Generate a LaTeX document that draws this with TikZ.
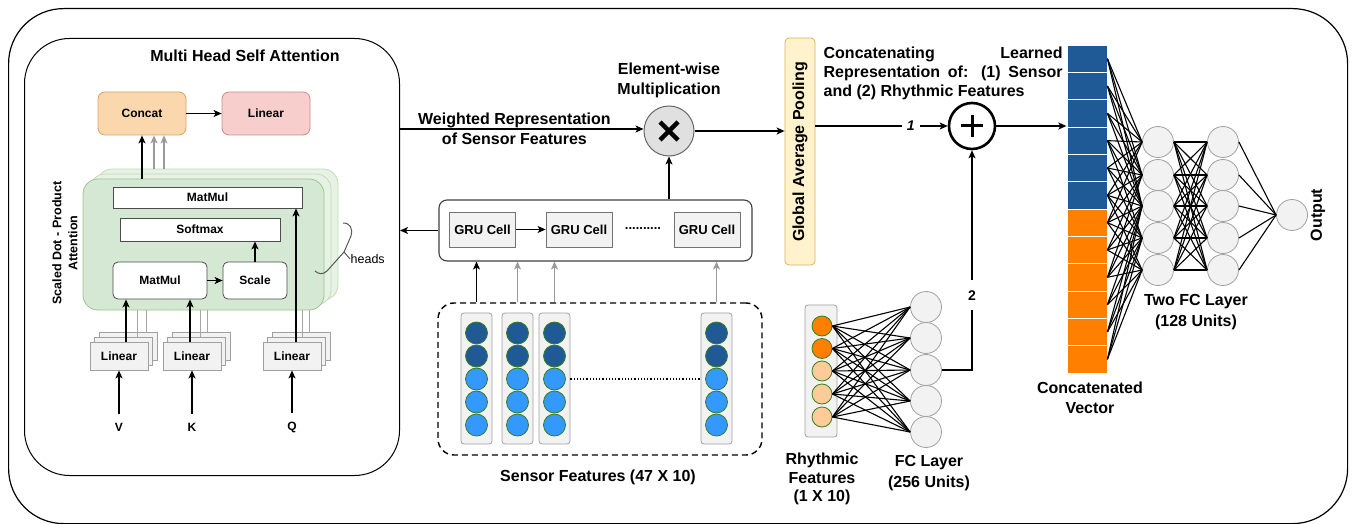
\documentclass[tikz,border=0pt]{standalone}
\usepackage{fontspec}
\setmainfont{Liberation Sans}
\usetikzlibrary{arrows.meta,calc}
\definecolor{dblue}{HTML}{1F5A96}
\definecolor{lblue}{HTML}{3399FF}
\definecolor{cgreen}{HTML}{3A7F1E}
\definecolor{dorange}{HTML}{FF8000}
\definecolor{lorange}{HTML}{FFCC99}
\definecolor{ngray}{HTML}{F2F2F2}
\definecolor{bgray}{HTML}{A0A0A0}
\definecolor{agray}{HTML}{9A9A9A}
\definecolor{gfill}{HTML}{D5E8D4}
\definecolor{gdraw}{HTML}{9CC58A}
\definecolor{gfillb}{HTML}{E6F2E4}
\definecolor{gdrawb}{HTML}{C3DDB8}
\definecolor{cfill}{HTML}{FAD7AC}
\definecolor{cdraw}{HTML}{D9A35E}
\definecolor{lfill}{HTML}{F8CECC}
\definecolor{ldraw}{HTML}{CC8A88}
\definecolor{yfill}{HTML}{FFF2CC}
\definecolor{ydraw}{HTML}{D6B656}
\begin{document}
\begin{tikzpicture}[x=1pt,y=-1pt,line width=1.3pt,
  >={Stealth[length=8pt,width=7pt,inset=2pt]},
  big/.style={font=\fontsize{16}{20}\selectfont\bfseries,align=center,inner sep=0},
  sm/.style={font=\fontsize{12}{14}\selectfont\bfseries,inner sep=0},
  wbox/.style={sm,draw=black!70,fill=white,line width=0.8pt},
  linbox/.style={sm,draw=bgray,fill=ngray,minimum width=58,minimum height=28,line width=0.8pt},
  greenbox/.style={draw=gdraw,fill=gfill,rounded corners=15,minimum width=241,minimum height=131,line width=0.8pt},
  greenback/.style={draw=gdrawb,fill=gfillb,rounded corners=15,minimum width=241,minimum height=131,line width=0.8pt},
  neuron/.style={circle,draw=bgray,fill=ngray,minimum size=31,inner sep=0,line width=0.8pt},
  sdot/.style={circle,draw=cgreen,minimum size=22,inner sep=0,line width=0.8pt},
  rdot/.style={circle,draw=cgreen,minimum size=20,inner sep=0,line width=0.8pt},
  colbox/.style={draw=bgray,fill=ngray,rounded corners=3,line width=0.8pt},
  grucell/.style={draw=black!55,fill=ngray,minimum width=66,minimum height=35,line width=0.8pt,
     font=\fontsize{13}{15}\selectfont\bfseries,inner sep=0},
  garrow/.style={->,draw=agray},
  gline/.style={draw=black!35,line width=1pt},
  conn/.style={line width=1.1pt},
]
\useasboundingbox (0,0) rectangle (1353,524);

% frames
\node[draw,line width=1.2pt,rounded corners=55,minimum width=1339,minimum height=515,anchor=north west,inner sep=0] (frame) at (8,8) {};
\node[draw,line width=1pt,rounded corners=45,minimum width=375,minimum height=437,anchor=north west,inner sep=0] (mhsa) at (24,38) {};
\node[big] (title) at (245,56) {Multi Head Self Attention};

% concat / linear
\node[sm,draw=cdraw,fill=cfill,rounded corners=7,minimum width=88,minimum height=43,line width=0.8pt] (concat) at (142,113.5) {Concat};
\node[sm,draw=ldraw,fill=lfill,rounded corners=7,minimum width=88,minimum height=43,line width=0.8pt] (linout) at (266,113.5) {Linear};
\draw[->] (concat.east) -- (linout.west);

% scaled dot product attention stack
\node[greenback] (sdpa2) at (217.5,234.5) {};
\node[greenback] (sdpa1) at (210.5,239.5) {};
\node[greenbox] (sdpa) at (203.5,244.5) {};
\node[wbox,minimum width=189,minimum height=21] (mm1) at (207.5,197.5) {MatMul};
\node[wbox,minimum width=160,minimum height=23] (soft) at (200,229.5) {Softmax};
\node[wbox,rounded corners=5,minimum width=94,minimum height=37] (mm2) at (160,280.5) {MatMul};
\node[wbox,rounded corners=5,minimum width=64,minimum height=37] (scale) at (255,280.5) {Scale};
\draw[->] (mm2.east) -- (scale.west);
\draw[->] (scale.north) -- (scale.north |- soft.south);
\draw[->] (concat.south |- sdpa.north) -- (concat.south);
\draw[garrow] ([xshift=12]concat.south |- sdpa2.north) -- ([xshift=12]concat.south);
\draw[garrow] ([xshift=22]concat.south |- sdpa2.north) -- ([xshift=22]concat.south);
\node[sm,rotate=90,align=center,font=\fontsize{12.5}{16}\selectfont\bfseries] (sdpalbl) at (65,243) {Scaled Dot - Product\\Attention};

% heads brace
\node[anchor=west,inner sep=0,font=\fontsize{12.5}{14}\selectfont] (heads) at (350,259) {heads};
\draw[line width=1pt,draw=black!65] (343,223) .. controls (350,223) and (353,228) .. (351,236) -- (344,252) -- (heads.west);
\draw[line width=1pt,draw=black!65] (344,252) -- (327,271) .. controls (323,275) and (318,274) .. (315,271);

% linear input boxes
\foreach \n/\x in {V/119,K/192,Q/292}{
  \node[linbox] (lin\n b2) at (\x+9,346) {};
  \node[linbox] (lin\n b1) at (\x+4.5,351) {};
  \node[linbox] (lin\n) at (\x,356) {Linear};
  \node[sm] (in\n) at (\x,427) {\n};
  \draw[->] (in\n.north) ++(0,-8) -- (lin\n.south);
}
\draw[->] ([xshift=7]linV.north) -- ([xshift=7]linV.north |- mm2.south);
\draw[->] ([xshift=-2]linK.north) -- ([xshift=-2]linK.north |- mm2.south);
\draw[->] ([xshift=4]linQ.north) -- ([xshift=4]linQ.north |- mm1.south);
\draw[gline] ([xshift=18]linV.north |- linVb1.north) -- ([xshift=18]linV.north |- sdpa.south);
\draw[gline] ([xshift=27]linV.north |- linVb2.north) -- ([xshift=27]linV.north |- sdpa.south);
\draw[gline] ([xshift=8]linK.north |- linKb1.north) -- ([xshift=8]linK.north |- sdpa.south);
\draw[gline] ([xshift=15]linK.north |- linKb2.north) -- ([xshift=15]linK.north |- sdpa.south);
\draw[gline] ([xshift=10]linQ.north |- linQb1.north) -- ([xshift=10]linQ.north |- sdpa.south);
\draw[gline] ([xshift=17]linQ.north |- linQb2.north) -- ([xshift=17]linQ.north |- sdpa.south);

% multiplication
\node[circle,draw=black!60,fill=black!12,minimum size=50,inner sep=0,line width=1pt] (mult) at (669,131) {};
\draw[line width=4.5pt] ([shift={(-9,-9)}]mult.center) -- ([shift={(9,9)}]mult.center);
\draw[line width=4.5pt] ([shift={(-9,9)}]mult.center) -- ([shift={(9,-9)}]mult.center);
\node[big] (multlbl) at (669,80.5) {Element-wise\\Multiplication};
\draw[->] (mhsa.east |- 0,129) -- node[pos=0.47,big,font=\fontsize{16}{20}\selectfont\bfseries] {Weighted Representation\\of Sensor Features} (mult.west |- 0,129);

% GRU
\node[draw=black!75,fill=white,rounded corners=8,minimum width=313,minimum height=61,line width=1.1pt,inner sep=0] (gru) at (595.5,230.5) {};
\node[grucell] (g1) at (482.5,229.5) {GRU Cell};
\node[grucell] (g2) at (579,229.5) {GRU Cell};
\node[grucell] (g3) at (707,229.5) {GRU Cell};
\draw[->,line width=1pt] (g1.east) -- (g2.west);
\node[inner sep=0,font=\fontsize{13}{15}\selectfont\bfseries] (gdots) at (643,229) {..........};
\draw[->] (gru.north -| mult.south) -- (mult.south);
\draw[->] (gru.west) -- (gru.west -| mhsa.east);

% sensor features
\node[draw,dashed,dash pattern=on 6pt off 4pt,line width=1.4pt,rounded corners=16,minimum width=324,minimum height=152,inner sep=0] (sens) at (600,379) {};
\foreach \c/\x in {1/476.5,2/517.5,3/554.5,4/716.5}{
  \node[colbox,minimum width=31,minimum height=131,inner sep=0] (s\c) at (\x,378.5) {};
  \foreach \k/\y/\col in {1/333/dblue,2/356/dblue,3/379/lblue,4/402/lblue,5/425/lblue}{
    \node[sdot,fill=\col] (s\c d\k) at (\x,\y) {};
  }
}
\draw[line width=1.2pt,dotted] (s3d3.east -| s3.east) -- (s4d3.west -| s4.west);
\draw[->] (s1.center |- sens.north) -- (s1.center |- gru.south);
\draw[garrow] (s2.center |- sens.north) -- (s2.center |- gru.south);
\draw[garrow] (s3.center |- sens.north) -- (s3.center |- gru.south);
\draw[garrow] (s4.center |- sens.north) -- (s4.center |- gru.south);
\node[big] (senslbl) at (598,477) {Sensor Features (47 X 10)};

% global average pooling
\node[draw=ydraw,fill=yfill,rounded corners=4,minimum width=30,minimum height=227,inner sep=0,line width=0.8pt] (gap) at (800,151.5) {};
\node[big,rotate=90] (gaplbl) at (800,152) {Global Average Pooling};
\draw[->] (mult.east) -- (mult.east -| gap.west);

% concatenation text
\node[anchor=north west,inner sep=0,align=left,font=\fontsize{16}{19}\selectfont\bfseries] (cattext) at (823,46)
 {\makebox[239pt][s]{Concatenating Learned}\\\makebox[239pt][s]{Representation of: (1) Sensor}\\and (2) Rhythmic Features};

% plus
\node[circle,draw,line width=2.6pt,fill=white,minimum size=46,inner sep=0] (plus) at (972,126) {};
\draw[line width=3pt] ([xshift=-11]plus.center) -- ([xshift=11]plus.center);
\draw[line width=3pt] ([yshift=-11]plus.center) -- ([yshift=11]plus.center);
\draw[->] (gap.east |- plus.west) -- node[pos=0.72,fill=white,inner xsep=5pt,inner ysep=2pt,font=\fontsize{14}{16}\selectfont\bfseries\itshape] {1} (plus.west);

% rhythmic features
\node[colbox,minimum width=32,minimum height=132,inner sep=0] (rcol) at (821,371) {};
\foreach \k/\y/\col in {1/326/dorange,2/348.5/dorange,3/371/lorange,4/394/lorange,5/417/lorange}{
  \node[rdot,fill=\col] (r\k) at (822,\y) {};
}
\foreach \k/\y in {1/307,2/338,3/370,4/401,5/432}{
  \node[neuron] (f\k) at (926,\y) {};
}
\foreach \i in {1,...,5}{\foreach \j in {1,...,5}{\draw[conn] (r\i.east) -- (f\j.west);}}
\node[big,font=\fontsize{16}{18.5}\selectfont\bfseries] (rlbl) at (822,479) {Rhythmic\\Features\\(1 X 10)};
\node[big,font=\fontsize{16}{21}\selectfont\bfseries] (flbl) at (929,473.5) {FC Layer\\(256 Units)};
\draw[->] (f3.east) -| node[pos=0.67,fill=white,inner xsep=3pt,inner ysep=10pt,font=\fontsize{14}{16}\selectfont\bfseries] {2} (plus.south);

% concatenated vector
\node[minimum width=40,minimum height=328,inner sep=0] (cv) at (1087,209) {};
\foreach \k in {1,...,12}{
  \ifnum\k<7 \def\cc{dblue}\else\def\cc{dorange}\fi
  \node[draw=white,line width=0.8pt,fill=\cc,minimum width=40,minimum height=27.33,inner sep=0] (c\k) at (1087,{45+27.33*(\k-0.5)}) {};
}
\draw[->] (plus.east) -- (plus.east -| cv.west);
\node[big] (cvlbl) at (1090,398) {Concatenated\\Vector};

% two FC layers
\foreach \k/\y in {1/142,2/175,3/206,4/238,5/270}{
  \node[neuron] (h\k) at (1158,\y) {};
  \node[neuron] (o\k) at (1223,\y) {};
}
\node[neuron] (out) at (1292,215) {};
\node[big,rotate=90] (outlbl) at (1318,215) {Output};
\foreach \i in {1,...,12}{\foreach \j in {1,...,5}{
  \pgfmathtruncatemacro\ok{abs(\j-1-(\i-1)*4/11)<=2.2}
  \ifnum\ok=1 \draw[line width=1.1pt] (c\i.east) -- (h\j.west);\fi
}}
\foreach \i in {1,...,5}{\foreach \j in {1,...,5}{\draw[conn] (h\i.east) -- (o\j.west);}}
\foreach \i in {1,...,5}{\draw[conn] (o\i.east) -- (out.west);}
\node[big,font=\fontsize{16}{21}\selectfont\bfseries] (fclbl) at (1196,312.5) {Two FC Layer\\(128 Units)};
\end{tikzpicture}
\end{document}
